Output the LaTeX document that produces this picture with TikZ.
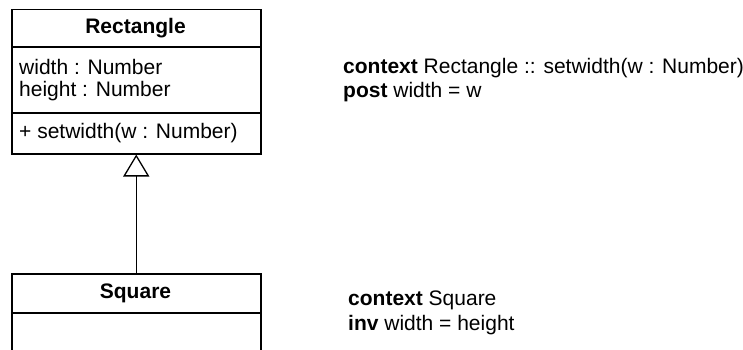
\documentclass[tikz,border=0pt]{standalone}
\usepackage{fontspec}
\setmainfont{Liberation Sans}
\usetikzlibrary{arrows.meta}
\begin{document}
\begin{tikzpicture}[x=1pt,y=-1pt,
  font=\fontsize{21}{24}\selectfont,
  classbox/.style={draw, line width=1.5pt, inner sep=0pt, anchor=north west, minimum width=249pt},
  divider/.style={line width=1.5pt},
  txt/.style={inner sep=0pt, anchor=base west},
  title/.style={inner sep=0pt, anchor=base, font=\fontsize{21}{24}\selectfont\bfseries},
  inherit/.style={line width=1.5pt, -{Triangle[open, length=22pt, width=26pt, line width=1.3pt]}}]
\clip (0,0) rectangle (743,350);
\useasboundingbox (0,0) rectangle (743,350);
% Rectangle class
\node[classbox, minimum height=144pt] (rect) at (11,9) {};
\draw[divider] (11,47) -- (260,47);
\draw[divider] (11,113) -- (260,113);
\node[title] (rectname) at (135.5,34) {Rectangle};
\node[txt] (attr1) at (19,75) {width : Number};
\node[txt] (attr2) at (19,97) {height : Number};
\node[txt] (op1) at (19,138) {+ setwidth(w : Number)};
% Square class
\node[classbox, minimum height=110pt] (sq) at (11,273) {};
\draw[divider] (11,313) -- (260,313);
\node[title] (sqname) at (135.5,298) {Square};
% generalization
\draw[inherit] (sq.north) -- (rect.south);
% OCL constraints
\node[txt] (c1a) at (343,74) {\textbf{context} Rectangle :: setwidth(w : Number)};
\node[txt] (c1b) at (343,98) {\textbf{post} width = w};
\node[txt] (c2a) at (348,305) {\textbf{context} Square};
\node[txt] (c2b) at (348,330) {\textbf{inv} width = height};
\end{tikzpicture}
\end{document}
